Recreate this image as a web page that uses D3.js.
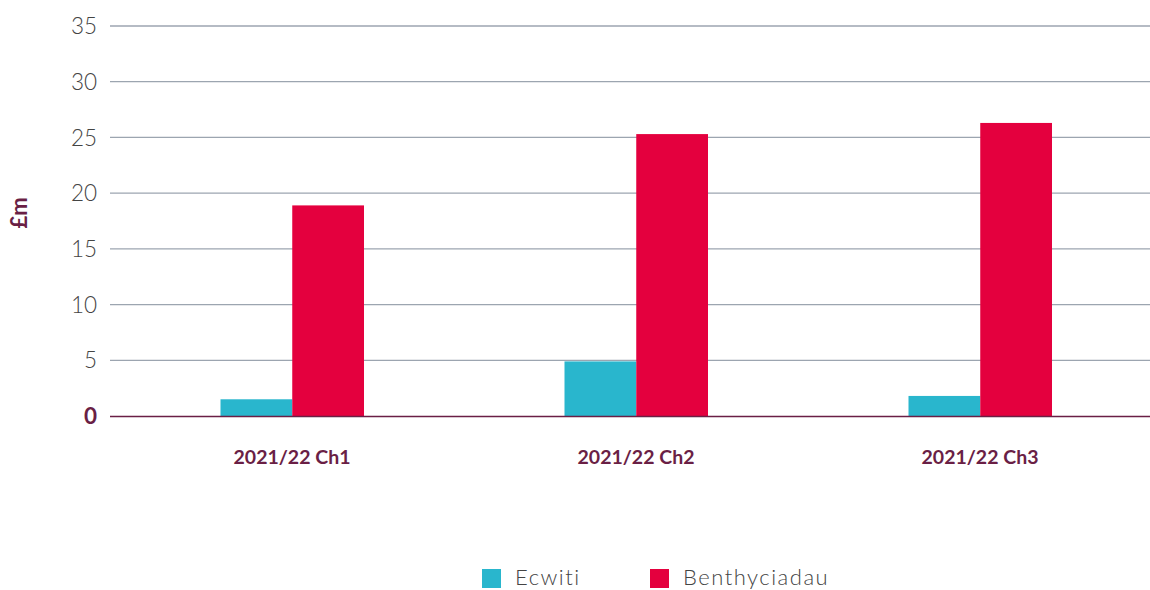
<!DOCTYPE html>
<html><head><meta charset="utf-8">
<script src="https://cdn.jsdelivr.net/npm/d3@7"></script>
<style>body{margin:0;background:#fff;font-family:Lato,"Open Sans",sans-serif}</style>
</head><body><svg id="c" width="1150" height="590"></svg>
<script>
const categories = ["2021/22 Ch1","2021/22 Ch2","2021/22 Ch3"];
const seriesNames = ["Ecwiti","Benthyciadau"];
const ecwiti = [1.5, 4.9, 1.8];
const benthyciadau = [18.9, 25.3, 26.3];
const yTicks = [0,5,10,15,20,25,30,35];
const colors = ["#29b6cd","#e4003e"];
const maroon = "#6a1f45";

const svg = d3.select("#c");
const y = d3.scaleLinear().domain([0,35]).range([416,26]);
const x = d3.scaleBand().domain(categories).range([120,1152]);
const inner = d3.scaleBand().domain(seriesNames).range([x.bandwidth()/2-71.5, x.bandwidth()/2+72]);

// gridlines
svg.append("g").selectAll("line").data(yTicks.filter(d=>d>0)).join("line")
  .attr("x1",110).attr("x2",1150).attr("y1",d=>y(d)).attr("y2",d=>y(d))
  .attr("stroke","#9ca5b0").attr("stroke-width",1.3);

// y tick labels
svg.append("g").selectAll("text").data(yTicks).join("text")
  .attr("x",97).attr("y",d=>y(d)).attr("dy","0.36em").attr("text-anchor","end")
  .attr("font-size",22.5).attr("font-weight",d=>d===0?700:300)
  .attr("fill",d=>d===0?maroon:"#444").text(d=>d);

// bars
const data = categories.map((c,i)=>({c, vals:[ecwiti[i], benthyciadau[i]]}));
const g = svg.append("g").selectAll("g").data(data).join("g").attr("transform",d=>`translate(${x(d.c)},0)`);
g.selectAll("rect").data(d=>d.vals.map((v,j)=>({v,s:seriesNames[j],j}))).join("rect")
  .attr("x",d=>inner(d.s)).attr("width",inner.bandwidth())
  .attr("y",d=>y(d.v)).attr("height",d=>y(0)-y(d.v)).attr("fill",d=>colors[d.j]);

// baseline
svg.append("line").attr("x1",110).attr("x2",1150).attr("y1",y(0)+0.5).attr("y2",y(0)+0.5)
  .attr("stroke",maroon).attr("stroke-width",1.3);

// category labels
svg.append("g").selectAll("text").data(categories).join("text")
  .attr("x",d=>x(d)+x.bandwidth()/2).attr("y",464).attr("text-anchor","middle")
  .attr("font-size",19.5).attr("font-weight",700).attr("fill",maroon).text(d=>d);

// y axis title
svg.append("text").attr("transform","translate(27,213) rotate(-90)").attr("text-anchor","middle")
  .attr("font-size",22).attr("font-weight",700).attr("fill",maroon).text("£m");

// legend
const legX = [482, 650];
const lg = svg.append("g").selectAll("g").data(seriesNames).join("g")
  .attr("transform",(d,i)=>`translate(${legX[i]},569)`);
lg.append("rect").attr("width",19).attr("height",19).attr("fill",(d,i)=>colors[i]);
lg.append("text").attr("x",33).attr("y",16).attr("font-size",22)
  .attr("letter-spacing",1.5).attr("font-weight",300).attr("fill","#444").text(d=>d);
</script></body></html>
